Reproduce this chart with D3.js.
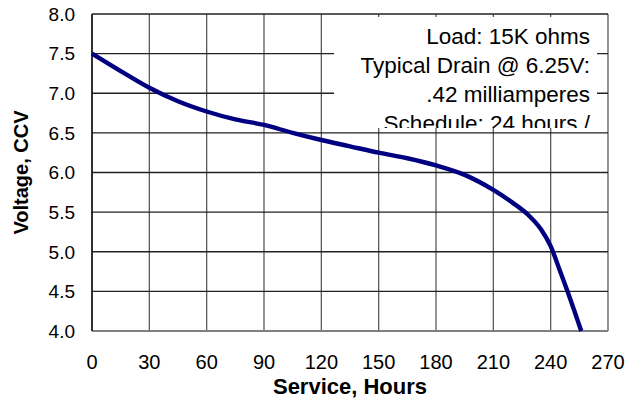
<!DOCTYPE html>
<html>
<meta charset="utf-8">
<style>
  body { margin: 0; background: #fff; }
  text { font-family: "Liberation Sans", Arial, sans-serif; }
</style>
<body>
<div id="chart"></div>
<script src="https://d3js.org/d3.v7.min.js"></script>
<script>

// service hours and closed circuit voltage
var hours = [0, 15, 30, 45, 60, 75, 90, 105, 120, 135, 150, 165, 180, 195, 210, 220, 228, 235, 240, 245, 250, 256];
var volts = [7.5, 7.28, 7.07, 6.9, 6.77, 6.67, 6.6, 6.5, 6.41, 6.33, 6.25, 6.18, 6.09, 5.97, 5.78, 5.62, 5.47, 5.28, 5.07, 4.75, 4.42, 4.0];

var xTicks = [0, 30, 60, 90, 120, 150, 180, 210, 240, 270];
var yTicks = [4.0, 4.5, 5.0, 5.5, 6.0, 6.5, 7.0, 7.5, 8.0];

var noteLines = ["Load: 15K ohms", "Typical Drain @ 6.25V:", ".42 milliamperes", "Schedule: 24 hours /"];

var width = 642, height = 400;
var margin = {top: 14, right: 34, bottom: 69, left: 92};

var svg = d3.select("#chart")
  .append("svg")
    .attr("width", width)
    .attr("height", height);

var x = d3.scaleLinear()
  .domain([0, 270])
  .range([margin.left, width - margin.right]);

var y = d3.scaleLinear()
  .domain([4, 8])
  .range([height - margin.bottom, margin.top]);

// grid
svg.append("g")
  .selectAll("line")
  .data(xTicks)
  .enter()
  .append("line")
    .attr("x1", d => x(d)).attr("x2", d => x(d))
    .attr("y1", y(8)).attr("y2", y(4))
    .attr("stroke", "#5a5a5a")
    .attr("stroke-width", 1.3);

svg.append("g")
  .selectAll("line")
  .data(yTicks)
  .enter()
  .append("line")
    .attr("x1", x(0)).attr("x2", x(270))
    .attr("y1", d => y(d)).attr("y2", d => y(d))
    .attr("stroke", "#222")
    .attr("stroke-width", 1.3);

// bottom edge is grey and a bit heavier
svg.append("line")
  .attr("x1", x(0)).attr("x2", x(270))
  .attr("y1", y(4)).attr("y2", y(4))
  .attr("stroke", "#808080")
  .attr("stroke-width", 2.2);

svg.append("line")
  .attr("x1", x(0)).attr("x2", x(0))
  .attr("y1", y(8)).attr("y2", y(4))
  .attr("stroke", "#111")
  .attr("stroke-width", 1.5);

// tick labels
svg.append("g")
  .selectAll("text")
  .data(yTicks)
  .enter()
  .append("text")
    .attr("x", 75)
    .attr("y", d => y(d))
    .attr("dy", "0.36em")
    .attr("text-anchor", "end")
    .style("font-size", "19px")
    .text(d => d3.format(".1f")(d));

svg.append("g")
  .selectAll("text")
  .data(xTicks)
  .enter()
  .append("text")
    .attr("x", d => x(d))
    .attr("y", 369)
    .attr("text-anchor", "middle")
    .style("font-size", "20px")
    .text(d => d);

// axis titles
svg.append("text")
  .attr("x", (x(0) + x(270)) / 2)
  .attr("y", 394)
  .attr("text-anchor", "middle")
  .style("font-size", "22px")
  .style("font-weight", "bold")
  .text("Service, Hours");

svg.append("text")
  .attr("transform", "translate(28," + ((y(8) + y(4)) / 2) + ") rotate(-90)")
  .attr("text-anchor", "middle")
  .style("font-size", "20px")
  .style("font-weight", "bold")
  .text("Voltage, CCV");

// discharge curve
var line = d3.line()
  .x(function(d, i) { return x(hours[i]); })
  .y(function(d) { return y(d); })
  .curve(d3.curveMonotoneX);

svg.append("path")
  .datum(volts)
  .attr("d", line)
  .attr("fill", "none")
  .attr("stroke", "#000080")
  .attr("stroke-width", 4.4)
  .attr("stroke-linecap", "butt");

// note box, white, clips its last line
var box = {x: 334, y: 17, w: 263, h: 111};

svg.append("clipPath")
  .attr("id", "noteClip")
  .append("rect")
    .attr("x", box.x).attr("y", box.y)
    .attr("width", box.w).attr("height", box.h);

svg.append("rect")
  .attr("x", box.x).attr("y", box.y)
  .attr("width", box.w).attr("height", box.h)
  .attr("fill", "#fff");

svg.append("g")
  .attr("clip-path", "url(#noteClip)")
  .selectAll("text")
  .data(noteLines)
  .enter()
  .append("text")
    .attr("x", 590)
    .attr("y", (d, i) => 43.5 + i * 29.2)
    .attr("text-anchor", "end")
    .style("font-size", "22.5px")
    .text(d => d);

</script>
</body>
</html>
